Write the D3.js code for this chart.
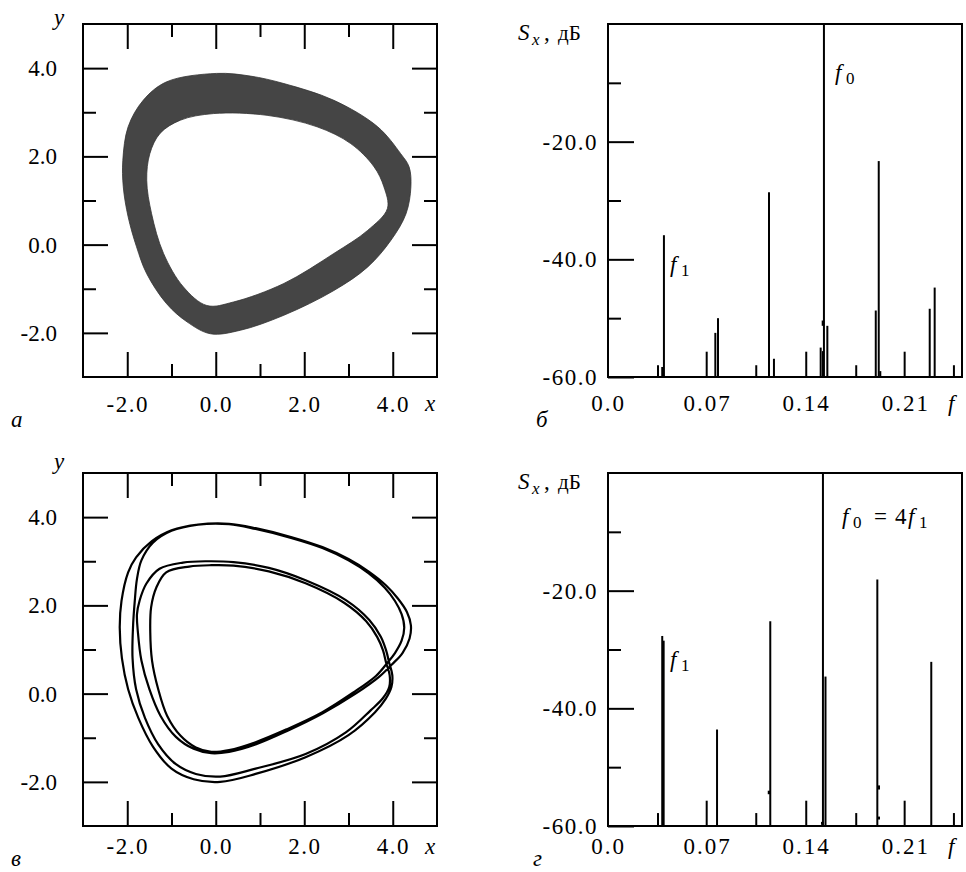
<!DOCTYPE html>
<html><head><meta charset="utf-8">
<script src="https://cdn.jsdelivr.net/npm/d3@7"></script>
</head><body style="margin:0">
<script>
let width = 966
let height = 872
let serif = "'Liberation Serif'"

// phase portrait axes
let portraitTicks = [-2, 0, 2, 4]
let portraitMinor = [-1, 1, 3]
// spectrum axes
let specYTicks = [-20, -40, -60]
let specYMinor = [-10, -30, -50]
let specXTicks = [0, 0.07, 0.14, 0.21]

// (a) band of the two-frequency torus: outer and inner edges [x, y]
let bandOuter = [[0.02,3.88],[0.78,3.82],[1.54,3.65],[2.67,3.27],[3.66,2.67],[4.18,2.06],[4.37,1.76],
  [4.41,1.31],[4.3,0.7],[3.96,0.1],[3.43,-0.51],[2.67,-1.04],[1.54,-1.6],[0.56,-1.94],[-0.12,-2.02],
  [-0.65,-1.75],[-1.11,-1.34],[-1.56,-0.66],[-1.79,-0.05],[-1.98,0.63],[-2.09,1.31],[-2.1,1.91],
  [-1.98,2.67],[-1.64,3.27],[-1.11,3.69]]
let bandInner = [[-0.05,2.97],[1.16,2.93],[2.29,2.67],[3.05,2.29],[3.58,1.76],[3.8,1.31],[3.88,0.82],
  [3.43,0.32],[2.67,-0.2],[1.54,-0.88],[0.4,-1.3],[-0.2,-1.38],[-0.73,-0.96],[-1.18,-0.2],[-1.45,0.7],
  [-1.56,1.46],[-1.49,2.06],[-1.26,2.52],[-0.8,2.82]]

// (в) resonant cycle, first and second pair of turns
let cycleTurnsA = [[0.3,3.85],[0.9,3.75],[1.7,3.55],[2.41,3.32],
  [3.0,3.05],[3.45,2.77],[3.85,2.45],[4.12,2.15],[4.32,1.85],[4.41,1.55],[4.38,1.25],[4.22,0.92],
  [3.98,0.66],[3.69,0.38],[3.16,0.0],[2.41,-0.45],[1.6,-0.85],[0.9,-1.15],[0.3,-1.32],[-0.1,-1.35],
  [-0.5,-1.25],[-0.9,-0.98],[-1.25,-0.5],[-1.5,0.1],[-1.68,0.75],[-1.76,1.4],[-1.78,1.8],[-1.72,2.11],
  [-1.57,2.49],[-1.27,2.83],[-0.74,2.97],[-0.2,3.0],[0.4,2.98],[1.2,2.85],[2.03,2.57],[2.94,2.12],[3.47,1.67],
  [3.73,1.29],[3.85,0.98],[3.92,0.7],[3.99,0.42],[3.97,0.15],[3.84,-0.12],[3.6,-0.42],[3.0,-0.94],
  [2.03,-1.44],[0.9,-1.82],[0.1,-2.0],[-0.5,-1.94],[-1.0,-1.7],[-1.42,-1.2],[-1.75,-0.55],[-1.98,0.1],
  [-2.12,0.8],[-2.17,1.5],[-2.13,2.1],[-1.98,2.75],[-1.8,3.09],[-1.45,3.45],[-1.0,3.7],[-0.4,3.83]]
let cycleTurnsB = [[0.3,3.84],[0.9,3.73],[1.7,3.53],[2.41,3.3],
  [3.0,3.02],[3.45,2.73],[3.82,2.4],[4.05,2.1],[4.2,1.8],[4.26,1.5],[4.2,1.2],[4.05,0.92],[3.88,0.7],
  [3.62,0.4],[3.1,0.02],[2.41,-0.42],[1.6,-0.81],[0.9,-1.1],[0.3,-1.28],[-0.1,-1.32],[-0.45,-1.22],
  [-0.8,-0.95],[-1.1,-0.5],[-1.3,0.1],[-1.44,0.75],[-1.48,1.4],[-1.46,1.96],[-1.34,2.41],[-1.12,2.75],
  [-0.6,2.88],[-0.1,2.91],[0.4,2.9],[1.2,2.77],[2.03,2.5],[2.9,2.06],[3.4,1.64],[3.65,1.28],[3.78,0.98],
  [3.85,0.7],[3.93,0.42],[3.92,0.15],[3.78,-0.1],[3.5,-0.38],[2.94,-0.88],[2.03,-1.37],[0.9,-1.7],
  [0.1,-1.88],[-0.45,-1.82],[-0.9,-1.6],[-1.3,-1.15],[-1.6,-0.55],[-1.8,0.1],[-1.88,0.8],[-1.87,1.5],
  [-1.83,2.1],[-1.78,2.6],[-1.68,3.02],[-1.42,3.42],[-1.0,3.69],[-0.4,3.83]]

// (б) spectrum lines: frequency and level, dB
let specTopF = [0.0353,0.0383,0.0395,0.0697,0.0758,0.0777,0.1047,0.1137,0.1172,0.1400,0.1502,0.1518,
  0.1525,0.1549,0.1753,0.1891,0.1912,0.1923,0.2095,0.2272,0.2307,0.2443]
let specTopDb = [-58.0,-58.3,-35.9,-55.7,-52.5,-50.0,-58.0,-28.6,-56.9,-55.7,-55.0,-55.6,
  0,-51.3,-58.0,-48.7,-23.3,-59.0,-55.7,-48.4,-44.8,-58.0]
let spurTopF = [0.1518]
let spurTopLo = [-51.3]
let spurTopHi = [-50.4]

// (г) spectrum lines
let specBotF = [0.0353,0.0383,0.0393,0.0697,0.0770,0.1047,0.1146,0.1400,0.1518,0.1536,0.1753,0.1902,
  0.2095,0.2283,0.2443]
let specBotDb = [-57.8,-27.7,-28.5,-55.7,-43.6,-57.8,-25.2,-55.7,0,-34.6,-57.8,-18.1,-55.7,-32.1,-57.8]
let spurBotF = [0.1137,0.1912,0.1912,0.1513]
let spurBotLo = [-54.6,-53.8,-58.9,-59.8]
let spurBotHi = [-54.0,-53.1,-58.4,-59.3]

let svg = d3.select("body").append("svg")
    .attr("width", width)
    .attr("height", height)

let fmt1 = d => d.toFixed(1)
let fmtF = d => d === 0 ? "0.0" : d.toFixed(2)

let styleAxis = (sel) => {
    sel.attr("font-family", null).attr("font-size", null)
    sel.select(".domain").remove()
    sel.selectAll(".tick line").attr("stroke-width", 2)
    sel.selectAll("text")
        .attr("font-size", 23)
        .style("font-family", serif)
}

let label = (x, y, parts) => {
    let t = svg.append("text").attr("x", x).attr("y", y)
        .attr("font-size", 23)
        .style("font-family", serif)
    parts.forEach(p => {
        let s = t.append("tspan").text(p.t)
        if (p.i) s.style("font-style", "italic")
        if (p.x != null) s.attr("x", p.x)
        if (p.dy) s.attr("dy", p.dy)
        if (p.s) s.attr("font-size", p.s)
    })
    return t
}

let portraitPanel = (top, letter) => {
    let left = 83, right = 437, bottom = top + 353
    let x = d3.scaleLinear([-3, 5], [left, right])
    let y = d3.scaleLinear([-3, 5], [bottom, top])
    let g = svg.append("g")

    g.append("g").attr("transform", `translate(0,${bottom})`)
        .call(d3.axisBottom(x).tickValues(portraitTicks).tickSize(-25).tickPadding(letter.xPad).tickFormat(fmt1))
        .call(styleAxis)
        .selectAll("text").attr("letter-spacing", 1.5)
    g.append("g").attr("transform", `translate(0,${bottom})`)
        .call(d3.axisBottom(x).tickValues(portraitMinor).tickSize(-13).tickFormat("")).call(styleAxis)
    g.append("g").attr("transform", `translate(0,${top})`)
        .call(d3.axisTop(x).tickValues(portraitTicks).tickSize(-25).tickFormat("")).call(styleAxis)
    g.append("g").attr("transform", `translate(0,${top})`)
        .call(d3.axisTop(x).tickValues(portraitMinor).tickSize(-13).tickFormat("")).call(styleAxis)
    g.append("g").attr("transform", `translate(${left},0)`)
        .call(d3.axisLeft(y).tickValues(portraitTicks).tickSize(-25).tickPadding(26).tickFormat(fmt1))
        .call(styleAxis)
    g.append("g").attr("transform", `translate(${left},0)`)
        .call(d3.axisLeft(y).tickValues(portraitMinor).tickSize(-13).tickFormat("")).call(styleAxis)
    g.append("g").attr("transform", `translate(${right},0)`)
        .call(d3.axisRight(y).tickValues(portraitTicks).tickSize(-25).tickFormat("")).call(styleAxis)
    g.append("g").attr("transform", `translate(${right},0)`)
        .call(d3.axisRight(y).tickValues(portraitMinor).tickSize(-13).tickFormat("")).call(styleAxis)

    g.append("rect").attr("x", left).attr("y", top).attr("width", right - left).attr("height", bottom - top)
        .attr("fill", "none").attr("stroke", "#000").attr("stroke-width", 2)

    label(54, letter.yBase, [{ t: "y", i: true }])
    label(425, letter.xBase, [{ t: "x", i: true }])
    label(11, letter.lBase, [{ t: letter.t, i: true }])
    return { x, y, g }
}

let spectrumPanel = (top, letter, fs, dbs, sf, slo, shi) => {
    let left = 608, right = 962, bottom = top + 353
    let x = d3.scaleLinear([0, 0.25], [left, right])
    let y = d3.scaleLinear([-60, 0], [bottom, top])
    let g = svg.append("g")

    g.append("g").attr("transform", `translate(${left},0)`)
        .call(d3.axisLeft(y).tickValues(specYTicks).tickSize(-26).tickPadding(10).tickFormat(fmt1))
        .call(styleAxis)
        .selectAll("text").attr("letter-spacing", 1.5)
    g.append("g").attr("transform", `translate(${left},0)`)
        .call(d3.axisLeft(y).tickValues(specYMinor).tickSize(-13).tickFormat("")).call(styleAxis)
    g.append("g").attr("transform", `translate(0,${bottom})`)
        .call(d3.axisBottom(x).tickValues(specXTicks).tickSize(0).tickPadding(letter.xPad).tickFormat(fmtF))
        .call(styleAxis)
        .selectAll("text").attr("letter-spacing", 2)

    let lines = fs.map((f, i) => ({ f, db: dbs[i] }))
    g.selectAll(".spec").data(lines).enter().append("line")
        .attr("class", "spec")
        .attr("x1", d => x(d.f)).attr("x2", d => x(d.f))
        .attr("y1", y(-60)).attr("y2", d => y(d.db))
        .attr("stroke", "#000").attr("stroke-width", 2)
    let spurs = sf.map((f, i) => ({ f, lo: slo[i], hi: shi[i] }))
    g.selectAll(".spur").data(spurs).enter().append("line")
        .attr("class", "spur")
        .attr("x1", d => x(d.f)).attr("x2", d => x(d.f))
        .attr("y1", d => y(d.lo)).attr("y2", d => y(d.hi))
        .attr("stroke", "#000").attr("stroke-width", 2.5)

    g.append("rect").attr("x", left).attr("y", top).attr("width", right - left).attr("height", bottom - top)
        .attr("fill", "none").attr("stroke", "#000").attr("stroke-width", 2)

    label(518, letter.sBase, [{ t: "S", i: true }, { t: "x", i: true, s: 17, dy: 5, x: 532 },
        { t: ",", dy: -5, x: 544 }, { t: "дБ", x: 558, s: 21 }])
    label(948, letter.xBase, [{ t: "f", i: true }])
    label(letter.lx, letter.lBase, [{ t: letter.t, i: true }])
    return { x, y, g }
}

// (а)
let pa = portraitPanel(24, { t: "а", yBase: 25, xBase: 411, lBase: 427, xPad: 19 })
let ring = d3.line().x(d => pa.x(d[0])).y(d => pa.y(d[1])).curve(d3.curveCatmullRomClosed.alpha(0.5))
pa.g.append("path")
    .attr("d", ring(bandOuter) + ring(bandInner))
    .attr("fill", "#454545").attr("fill-rule", "evenodd")
    .attr("stroke", "#333").attr("stroke-width", 0.8)

// (б)
let pb = spectrumPanel(24, { t: "б", sBase: 40, xBase: 411, lBase: 427, lx: 536, xPad: 18 },
    specTopF, specTopDb, spurTopF, spurTopLo, spurTopHi)
label(835, 80, [{ t: "f", i: true }, { t: "0", s: 17, dy: 4, x: 846 }])
label(670, 272, [{ t: "f", i: true }, { t: "1", s: 17, dy: 4, x: 681 }])

// (в)
let pc = portraitPanel(473, { t: "в", yBase: 469, xBase: 854, lBase: 866, xPad: 12 })
let orbit = d3.line().x(d => pc.x(d[0])).y(d => pc.y(d[1])).curve(d3.curveCatmullRomClosed.alpha(0.5))
pc.g.append("path")
    .attr("d", orbit(cycleTurnsA.concat(cycleTurnsB)))
    .attr("fill", "none").attr("stroke", "#000").attr("stroke-width", 2.2)

// (г)
let pd = spectrumPanel(473, { t: "г", sBase: 489, xBase: 854, lBase: 866, lx: 533, xPad: 12 },
    specBotF, specBotDb, spurBotF, spurBotLo, spurBotHi)
label(842, 524, [{ t: "f", i: true }, { t: "0", s: 17, dy: 4, x: 853 }, { t: "=", dy: -4, x: 874 },
    { t: "4", x: 895 }, { t: "f", i: true, x: 908 }, { t: "1", s: 17, dy: 4, x: 919 }])
label(670, 667, [{ t: "f", i: true }, { t: "1", s: 17, dy: 4, x: 681 }])
</script></body></html>
